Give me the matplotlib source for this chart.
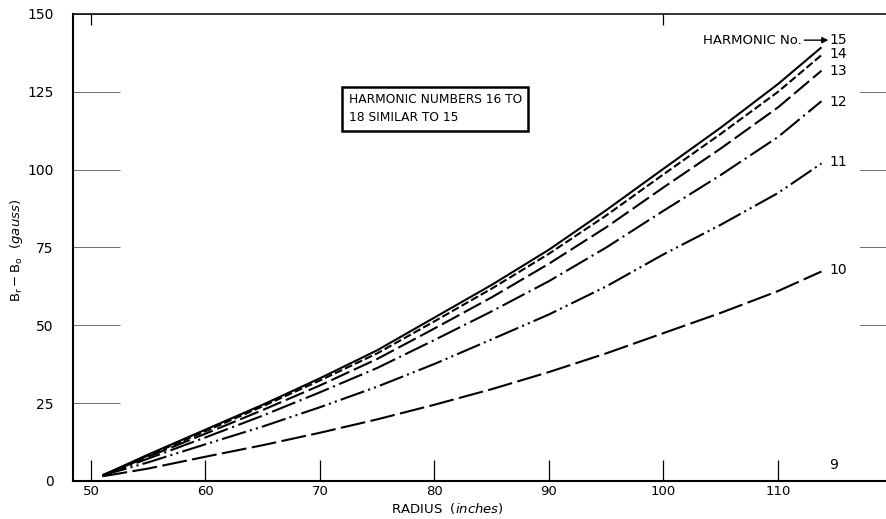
import matplotlib
matplotlib.use("Agg")
import matplotlib.pyplot as plt

# ---- data ----
radius = [51, 55, 60, 65, 70, 75, 80, 85, 90, 95, 100, 105, 110, 113.8]
h15 = [1.8, 8.5, 16.5, 24.5, 33.0, 42.0, 52.5, 63.0, 74.3, 87.0, 100.3, 113.5, 127.5, 139.3]
h14 = [1.8, 8.2, 16.0, 24.0, 32.3, 41.0, 51.3, 61.8, 73.0, 85.3, 98.5, 111.5, 125.0, 136.8]
h13 = [1.8, 7.8, 15.2, 22.8, 30.7, 39.2, 49.0, 59.0, 69.8, 81.5, 94.3, 106.8, 120.0, 131.8]
h12 = [1.8, 7.2, 14.0, 21.0, 28.5, 36.3, 45.3, 54.5, 64.2, 75.0, 86.8, 98.3, 110.5, 122.0]
h11 = [1.8, 6.0, 11.8, 17.5, 23.7, 30.3, 37.6, 45.5, 53.5, 62.5, 72.8, 82.3, 92.5, 102.0]
h10 = [1.5, 4.0, 7.8, 11.5, 15.5, 19.8, 24.5, 29.5, 35.0, 41.0, 47.5, 54.0, 61.0, 67.3]

harmonic_labels = ["15", "14", "13", "12", "11", "10", "9"]
label_y = [141.6, 137.3, 131.6, 121.6, 102.4, 67.8, 5.2]

x_ticks = [50, 60, 70, 80, 90, 100, 110]
y_ticks = [0, 25, 50, 75, 100, 125, 150]
note_text = "HARMONIC NUMBERS 16 TO\n18 SIMILAR TO 15"

# ---- figure ----
fig = plt.figure(figsize=(8.87, 5.19), dpi=100)
ax = fig.add_axes([73 / 887, 1 - 481 / 519, 1 - 73 / 887, (481 - 14) / 519])
ax.set_xlim(48.43, 119.52)
ax.set_ylim(0, 150)

lw = 1.5
ax.plot(radius, h15, color="k", lw=lw, ls="-", solid_capstyle="butt")
ax.plot(radius, h14, color="k", lw=lw, ls=(0, (3.8, 1.5)))
ax.plot(radius, h13, color="k", lw=lw, ls=(0, (9.5, 2.4)))
ax.plot(radius, h12, color="k", lw=lw, ls=(0, (12, 2.2, 1, 2.2)))
ax.plot(radius, h11, color="k", lw=lw, ls=(0, (12, 2, 1, 2, 1, 2)))
ax.plot(radius, h10, color="k", lw=lw, ls=(0, (12, 2.6)))

for lab, yv in zip(harmonic_labels, label_y):
    ax.text(114.5, yv, lab, fontsize=10, ha="left", va="center", color="k")

ax.text(112.1, 141.6, "HARMONIC No.", fontsize=9.5, ha="right", va="center")
ax.annotate("", xy=(114.4, 141.6), xytext=(112.3, 141.6),
            arrowprops=dict(arrowstyle="-|>", color="k", lw=1.0,
                            mutation_scale=9, shrinkA=0, shrinkB=0))

ax.text(72.5, 119.6, note_text, fontsize=8.8, ha="left", va="center",
        linespacing=1.55,
        bbox=dict(boxstyle="square,pad=0.5", fc="white", ec="k", lw=1.8))

# spines
for s in ["left", "bottom"]:
    ax.spines[s].set_linewidth(1.5)
ax.spines["top"].set_linewidth(1.1)
ax.spines["right"].set_visible(False)

ax.set_xticks(x_ticks)
ax.set_yticks(y_ticks)
ax.set_xticklabels([str(v) for v in x_ticks], fontsize=9.5)
ax.set_yticklabels([str(v) for v in y_ticks], fontsize=10)
ax.tick_params(axis="x", direction="in", length=15, width=0.9, pad=3)
ax.tick_params(axis="y", direction="in", length=34, width=0.6, pad=14,
               color="#555555")

# short grid stubs at right edge
for yv in y_ticks[2:-1]:
    ax.axhline(yv, xmin=0.967, xmax=1.0, color="#555555", lw=0.6)

# small ticks at top
sec = ax.secondary_xaxis("top")
sec.set_xticks([50, 100])
sec.set_xticklabels(["", ""])
sec.tick_params(direction="in", length=8, width=0.9)
sec.spines["top"].set_visible(False)

fig.text(447 / 887, 1 - 508 / 519, r"RADIUS  $\it{(inches)}$", fontsize=9.5,
         ha="center", va="center")
fig.text(17 / 887, 1 - 250 / 519, r"$\mathregular{B_r - B_o}$  $\it{(gauss)}$",
         fontsize=9.5, ha="center", va="center", rotation=90)

fig.savefig("out.png", dpi=100)
